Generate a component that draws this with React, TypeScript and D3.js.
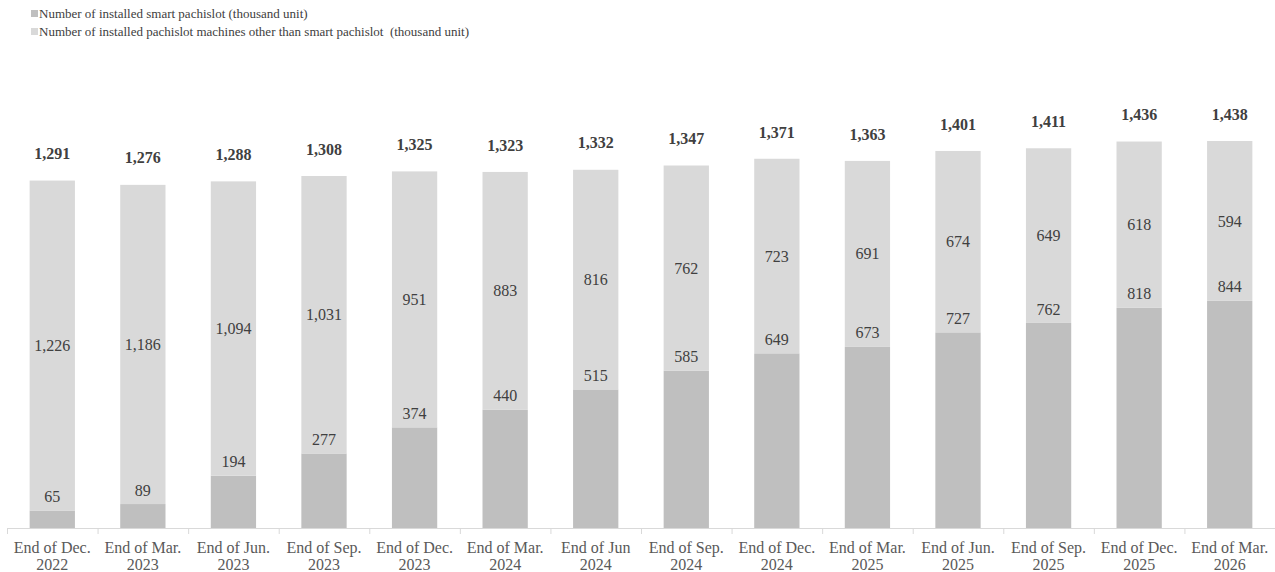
import React from "react";
import * as d3 from "d3";

const categories = [
  ["End of Dec.", "2022"], ["End of Mar.", "2023"], ["End of Jun.", "2023"], ["End of Sep.", "2023"],
  ["End of Dec.", "2023"], ["End of Mar.", "2024"], ["End of Jun", "2024"], ["End of Sep.", "2024"],
  ["End of Dec.", "2024"], ["End of Mar.", "2025"], ["End of Jun.", "2025"], ["End of Sep.", "2025"],
  ["End of Dec.", "2025"], ["End of Mar.", "2026"],
];
const smart = [65, 89, 194, 277, 374, 440, 515, 585, 649, 673, 727, 762, 818, 844];
const other = [1226, 1186, 1094, 1031, 951, 883, 816, 762, 723, 691, 674, 649, 618, 594];
const totals = [1291, 1276, 1288, 1308, 1325, 1323, 1332, 1347, 1371, 1363, 1401, 1411, 1436, 1438];
const legendLabels = [
  "Number of installed smart pachislot (thousand unit)",
  "Number of installed pachislot machines other than smart pachislot  (thousand unit)",
];

const W = 1275, H = 572;
const FONT = "'Liberation Serif', 'Times New Roman', serif";
const DARK = "#bfbfbf", LIGHT = "#d9d9d9";

export default function App() {
  const x = d3.scaleBand<number>().domain(d3.range(categories.length)).range([7, 1275]).paddingInner(0.5).paddingOuter(0.25);
  const y = d3.scaleLinear().domain([0, 1438]).range([528, 141]);
  const fmt = d3.format(",");
  const step = x.step();
  const x0 = 7;
  return (
    <svg width={W} height={H} style={{ position: "absolute", left: 0, top: 0 }} fontFamily={FONT}>
      {legendLabels.map((t, i) => (
        <g key={i}>
          <rect x={31} y={(i === 0 ? 10 : 28)} width={7} height={7} fill={i === 0 ? DARK : LIGHT} />
          <text x={39} y={(i === 0 ? 18 : 36)} fontSize={13} fill="#404040" style={{ whiteSpace: "pre" }}>{t}</text>
        </g>
      ))}
      {smart.map((s, i) => {
        const bx = x(i)!;
        const bw = x.bandwidth();
        const ySmart = y(s);
        const yTop = y(s + other[i]);
        return (
          <g key={i}>
            <rect x={bx} y={ySmart} width={bw} height={y(0) - ySmart} fill={DARK} />
            <rect x={bx} y={yTop} width={bw} height={ySmart - yTop} fill={LIGHT} />
            <text x={bx + bw / 2} y={ySmart - 14} dy="0.35em" textAnchor="middle" fontSize={16} fill="#404040">{fmt(s)}</text>
            <text x={bx + bw / 2} y={(ySmart + yTop) / 2} dy="0.35em" textAnchor="middle" fontSize={16} fill="#404040">{fmt(other[i])}</text>
            <text x={bx + bw / 2} y={y(totals[i]) - 27} dy="0.35em" textAnchor="middle" fontSize={16} fontWeight="bold" fill="#404040">{fmt(totals[i])}</text>
            <text x={bx + bw / 2} y={553} textAnchor="middle" fontSize={16} fill="#595959">{categories[i][0]}</text>
            <text x={bx + bw / 2} y={570} textAnchor="middle" fontSize={16} fill="#595959">{categories[i][1]}</text>
          </g>
        );
      })}
      <line x1={x0} x2={W} y1={528.5} y2={528.5} stroke={LIGHT} />
      {d3.range(categories.length + 1).map(i => (
        <line key={i} x1={x0 + i * step + 0.5} x2={x0 + i * step + 0.5} y1={528} y2={534} stroke={LIGHT} />
      ))}
    </svg>
  );
}
